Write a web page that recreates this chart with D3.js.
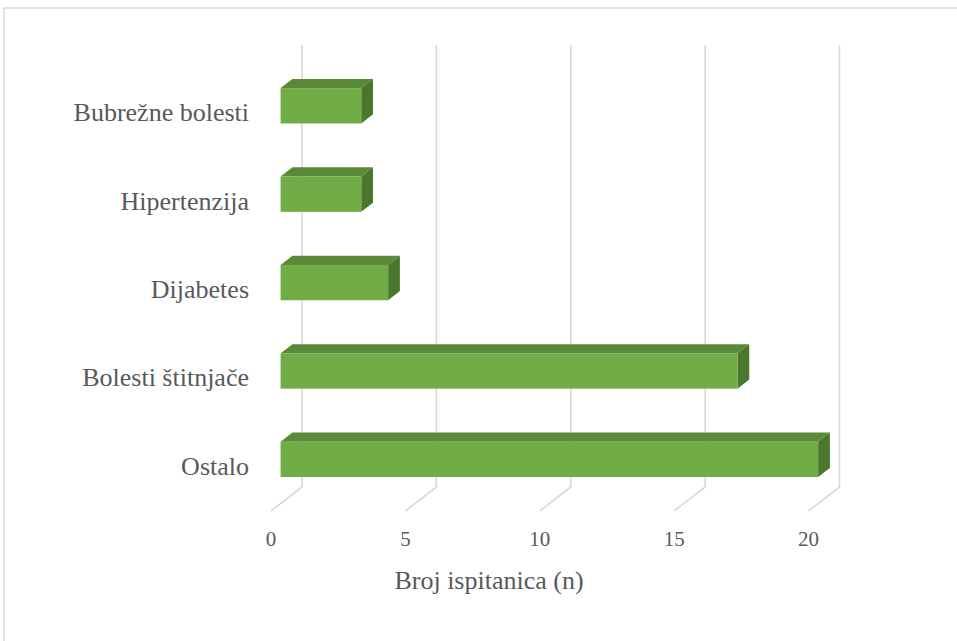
<!DOCTYPE html>
<html>
<head>
<meta charset="utf-8">
<script src="https://cdn.jsdelivr.net/npm/d3@7"></script>
<style>
  html, body { margin: 0; padding: 0; background: #ffffff; }
  svg { display: block; }
</style>
</head>
<body>
<svg id="chart" width="957" height="641"></svg>
<script>
const categories = ["Bubrežne bolesti", "Hipertenzija", "Dijabetes", "Bolesti štitnjače", "Ostalo"];
const values = [3, 3, 4, 17, 20];
const tickValues = [0, 5, 10, 15, 20];
const axisTitle = "Broj ispitanica (n)";

const FONT = "Liberation Serif";
const TEXT_COLOR = "#595959";
const svg = d3.select("#chart");

// chart border (continues off-canvas to the right and bottom)
svg.append("rect")
  .attr("x", 4).attr("y", 8).attr("width", 1100).attr("height", 1000)
  .attr("fill", "none").attr("stroke", "#d9d9d9").attr("stroke-width", 1.5);

// back wall scales
const x = d3.scaleLinear().domain([0, 20]).range([302, 839.5]);
const y = d3.scaleBand().domain(categories).range([45, 487]).paddingInner(0.6).paddingOuter(0.3);

// depth projection: f = 0 at back wall, 1 at front of floor
const DX = -31, DY = 24;
const proj = (px, py, f) => [px + DX * f, py + DY * f];
const fBack = 0.31, fFront = 0.69;

// gridlines (back wall + floor)
const grid = svg.append("g");
tickValues.forEach(t => {
  const xb = x(t);
  const p = proj(xb, 487, 1);
  grid.append("path")
    .attr("d", `M${xb},45 L${xb},487 L${p[0]},${p[1]}`)
    .attr("fill", "none").attr("stroke", "#d9d9d9").attr("stroke-width", 1.6);
});

// tick labels
svg.append("g").selectAll("text").data(tickValues).join("text")
  .attr("x", d => proj(x(d), 487, 1)[0])
  .attr("y", 546)
  .attr("text-anchor", "middle")
  .attr("font-family", FONT)
  .attr("font-size", 21)
  .attr("fill", TEXT_COLOR)
  .text(d => d);

// bars
const bars = svg.append("g");
categories.forEach((c, i) => {
  const v = values[i];
  const y0 = y(c), y1 = y(c) + y.bandwidth();
  const x0 = x(0), x1 = x(v);
  const F = (px, py) => proj(px, py, fFront);
  const B = (px, py) => proj(px, py, fBack);
  const pts = a => a.map(p => p.join(",")).join(" ");
  // top face
  bars.append("polygon")
    .attr("points", pts([F(x0, y0), F(x1, y0), B(x1, y0), B(x0, y0)]))
    .attr("fill", "#5a8a38");
  // side face
  bars.append("polygon")
    .attr("points", pts([F(x1, y0), B(x1, y0), B(x1, y1), F(x1, y1)]))
    .attr("fill", "#4b772d");
  // front face
  const f0 = F(x0, y0), f1 = F(x1, y1);
  bars.append("rect")
    .attr("x", f0[0]).attr("y", f0[1])
    .attr("width", f1[0] - f0[0]).attr("height", f1[1] - f0[1])
    .attr("fill", "#70ad47");
});

// category labels
svg.append("g").selectAll("text").data(categories).join("text")
  .attr("x", 249)
  .attr("y", d => proj(0, y(d) + y.bandwidth() / 2, fFront)[1] + 15.5)
  .attr("text-anchor", "end")
  .attr("font-family", FONT)
  .attr("font-size", 26)
  .attr("fill", TEXT_COLOR)
  .text(d => d);

// axis title
svg.append("text")
  .attr("x", 489).attr("y", 589)
  .attr("text-anchor", "middle")
  .attr("font-family", FONT)
  .attr("font-size", 26)
  .attr("fill", TEXT_COLOR)
  .text(axisTitle);
</script>
</body>
</html>
